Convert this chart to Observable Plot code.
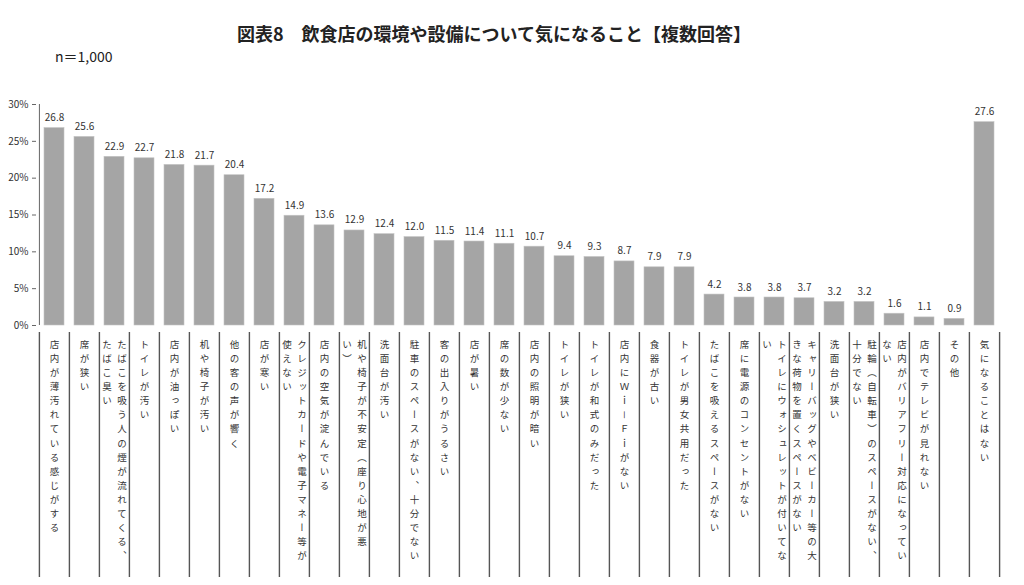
<!DOCTYPE html>
<html>
<head>
<meta charset="utf-8">
<script src="https://cdn.jsdelivr.net/npm/d3@7"></script>
<script src="https://cdn.jsdelivr.net/npm/@observablehq/plot@0.6"></script>
<style>
  body { margin: 0; background: #fff; }
  #wrap { position: relative; width: 1024px; height: 585px; overflow: hidden; font-family: "Noto Sans CJK JP", sans-serif; color: #222; }
  #title { position: absolute; top: 20px; left: 0; width: 988px; text-align: center; font-size: 18px; font-weight: bold; }
  #n { position: absolute; top: 46px; left: 55px; font-size: 14px; }
  #chart { position: absolute; top: 80px; left: 0; }
</style>
</head>
<body>
<div id="wrap">
  <div id="title">図表8　飲食店の環境や設備について気になること【複数回答】</div>
  <div id="n">n＝1,000</div>
  <div id="chart"></div>
</div>
<script>
const categories = [
  "店内が薄汚れている感じがする", "席が狭い", "たばこを吸う人の煙が流れてくる、たばこ臭い", "トイレが汚い",
  "店内が油っぽい", "机や椅子が汚い", "他の客の声が響く", "店が寒い",
  "クレジットカードや電子マネー等が使えない", "店内の空気が淀んでいる", "机や椅子が不安定（座り心地が悪い）", "洗面台が汚い",
  "駐車のスペースがない、十分でない", "客の出入りがうるさい", "店が暑い", "席の数が少ない",
  "店内の照明が暗い", "トイレが狭い", "トイレが和式のみだった", "店内にＷｉ－Ｆｉがない",
  "食器が古い", "トイレが男女共用だった", "たばこを吸えるスペースがない", "席に電源のコンセントがない",
  "トイレにウォシュレットが付いてない", "キャリーバッグやベビーカー等の大きな荷物を置くスペースがない", "洗面台が狭い", "駐輪（自転車）のスペースがない、十分でない",
  "店内がバリアフリー対応になっていない", "店内でテレビが見れない", "その他", "気になることはない"
];
const values = [
  26.8, 25.6, 22.9, 22.7, 21.8, 21.7, 20.4, 17.2,
  14.9, 13.6, 12.9, 12.4, 12.0, 11.5, 11.4, 11.1,
  10.7, 9.4, 9.3, 8.7, 7.9, 7.9, 4.2, 3.8,
  3.8, 3.7, 3.2, 3.2, 1.6, 1.1, 0.9, 27.6
];
// category tick labels as wrapped (vertical columns, right to left)
const labelLines = [
  ["店内が薄汚れている感じがする"], ["席が狭い"], ["たばこを吸う人の煙が流れてくる、", "たばこ臭い"], ["トイレが汚い"],
  ["店内が油っぽい"], ["机や椅子が汚い"], ["他の客の声が響く"], ["店が寒い"],
  ["クレジットカードや電子マネー等が", "使えない"], ["店内の空気が淀んでいる"], ["机や椅子が不安定（座り心地が悪", "い）"], ["洗面台が汚い"],
  ["駐車のスペースがない、十分でない"], ["客の出入りがうるさい"], ["店が暑い"], ["席の数が少ない"],
  ["店内の照明が暗い"], ["トイレが狭い"], ["トイレが和式のみだった"], ["店内にＷｉ－Ｆｉがない"],
  ["食器が古い"], ["トイレが男女共用だった"], ["たばこを吸えるスペースがない"], ["席に電源のコンセントがない"],
  ["トイレにウォシュレットが付いてな", "い"], ["キャリーバッグやベビーカー等の大", "きな荷物を置くスペースがない"], ["洗面台が狭い"], ["駐輪（自転車）のスペースがない、", "十分でない"],
  ["店内がバリアフリー対応になってい", "ない"], ["店内でテレビが見れない"], ["その他"], ["気になることはない"]
];
const yTicks = [0, 5, 10, 15, 20, 25, 30];

const data = categories.map((c, i) => ({category: c, value: values[i]}));
const lineData = [];
categories.forEach((c, i) => {
  const L = labelLines[i];
  if (L.length === 1) lineData.push({category: c, text: L[0], col: "single"});
  else {
    lineData.push({category: c, text: L[0], col: "right"});
    lineData.push({category: c, text: L[1], col: "left"});
  }
});

const width = 1024, height = 505;
const marginLeft = 36, marginRight = 22, marginTop = 24, marginBottom = 260;
const step = (width - marginLeft - marginRight) / categories.length;
const labelFont = "Noto Sans CJK JP";
const labelFill = "#343434";

const labelMark = (col, dx) => Plot.text(lineData.filter(d => d.col === col), {
  x: "category", text: "text", frameAnchor: "bottom", dy: 14, dx,
  textAnchor: "start", fontSize: 9.5, fill: labelFill
});

const plot = Plot.plot({
  width, height, marginLeft, marginRight, marginTop, marginBottom,
  style: {fontFamily: labelFont, fontSize: "10px", color: "#333", background: "transparent"},
  x: {domain: categories, paddingInner: 0.34, paddingOuter: 0.17, axis: null},
  y: {domain: [0, 30], axis: null},
  marks: [
    Plot.barY(data, {x: "category", y: "value", fill: "#a5a5a5", stroke: "#c4c4c4", strokeWidth: 0.6}),
    Plot.text(data, {x: "category", y: "value", text: d => d.value.toFixed(1), dy: -7, lineAnchor: "bottom", fontSize: 10, fill: "#333"}),
    Plot.ruleX([categories[0]], {dx: -step / 2, y1: 0, y2: 30, stroke: "#666", strokeWidth: 1}),
    Plot.axisY({ticks: yTicks, tickFormat: d => d + "%", tickSize: 4, tickPadding: 4, stroke: "#666", fontSize: 10, fill: "#333", label: null}),
    Plot.axisX({tickSize: 245, tickFormat: () => "", dx: -step / 2, dy: 7, stroke: "#555", strokeWidth: 1.4, label: null}),
    Plot.axisX({ticks: [categories[categories.length - 1]], tickSize: 245, tickFormat: () => "", dx: step / 2, dy: 7, stroke: "#555", strokeWidth: 1.4, label: null}),
    labelMark("single", 0),
    labelMark("right", 7.5),
    labelMark("left", -7.5)
  ]
});

const labelSet = new Set(lineData.map(d => d.text));
plot.querySelectorAll("text").forEach(t => {
  if (!labelSet.has(t.textContent)) return;
  t.removeAttribute("y");
  t.setAttribute("writing-mode", "vertical-rl");
  t.style.writingMode = "vertical-rl";
  t.style.letterSpacing = "4.6px";
});

document.getElementById("chart").appendChild(plot);
</script>
</body>
</html>
